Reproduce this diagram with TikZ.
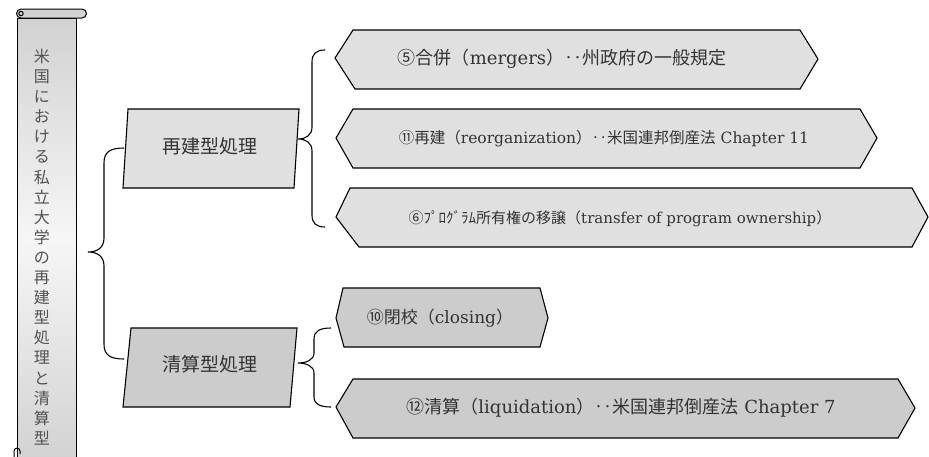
\documentclass[tikz,border=0pt]{standalone}
\usepackage{fontspec}
\setmainfont{DejaVu Serif}
\newfontfamily\jp{Noto Sans CJK JP}
\newcommand\J[1]{{\jp #1}}
\definecolor{lightfill}{HTML}{E0E0E0}
\definecolor{darkfill}{HTML}{CCCCCC}
\definecolor{txtgray}{HTML}{333333}
\definecolor{scrollgray}{HTML}{D2D2D2}
\definecolor{scrolllight}{HTML}{F6F6F6}
\tikzset{
  shp/.style={draw=black, line width=1.1pt, line join=miter},
  lbl/.style={text=txtgray, inner sep=0pt, anchor=center},
  brc/.style={draw=black, line width=1.1pt},
}
\begin{document}
\begin{tikzpicture}[x=1pt,y=-1pt]
\useasboundingbox (0,0) rectangle (929,456);

% ---- scroll ----
\path[shade, top color=scrollgray, bottom color=scrollgray, middle color=scrolllight, draw=black, line width=1pt]
  (17,18) rectangle (76,462);
\filldraw[fill=scrollgray, line width=1pt]
  (21,9) -- (82,9) arc[start angle=-90, end angle=90, radius=4.5] -- (21,18)
  arc[start angle=90, end angle=270, radius=4.5] -- cycle;
\draw[line width=1pt] (21,13.5) circle[radius=2.2];
\draw[line width=1pt] (14,458) -- (14,451) arc[start angle=180, end angle=360, radius=3] -- (20,454);
\node[lbl, text=txtgray!85, align=center, font=\jp\fontsize{16}{20.1}\selectfont] (title) at (42,247)
  {米\\国\\に\\お\\け\\る\\私\\立\\大\\学\\の\\再\\建\\型\\処\\理\\と\\清\\算\\型};

% ---- parallelograms ----
\path[shp, fill=lightfill] (128,109) -- (299,109) -- (294,188) -- (123,188) -- cycle;
\node[lbl, font=\jp\fontsize{19}{22}\selectfont] (p1) at (210,146) {再建型処理};
\path[shp, fill=darkfill] (131,328) -- (297,328) -- (290,407) -- (123,407) -- cycle;
\node[lbl, font=\jp\fontsize{19}{22}\selectfont] (p2) at (210,364) {清算型処理};

% ---- hexagons ----
\path[shp, fill=lightfill] (335,58) -- (353,30) -- (800,30) -- (818,59) -- (800,89) -- (355,89) -- cycle;
\node[lbl, font=\fontsize{18}{22}\selectfont] (h1) at (562,59)
  {\J{⑤合併（}mergers\J{）‥州政府の一般規定}};

\path[shp, fill=lightfill] (336,138) -- (353,109) -- (860,109) -- (877,138) -- (860,168) -- (353,168) -- cycle;
\node[lbl, font=\fontsize{15.5}{20}\selectfont] (h2) at (604,139)
  {\J{⑪再建（}reorganization\J{）‥米国連邦倒産法} Chapter 11};

\path[shp, fill=lightfill] (336,217) -- (350,188) -- (912,188) -- (928,217) -- (912,247) -- (359,247) -- cycle;
\node[lbl, font=\fontsize{15}{20}\selectfont] (h3) at (620,219)
  {\J{⑥ﾌﾟﾛｸﾞﾗﾑ所有権の移譲（}transfer of program ownership\J{）}};

\path[shp, fill=darkfill] (336,318) -- (343,288) -- (540,288) -- (548,318) -- (540,347) -- (344,347) -- cycle;
\node[lbl, font=\fontsize{17}{20}\selectfont] (h4) at (440,318)
  {\J{⑩閉校（}closing\J{）}};

\path[shp, fill=darkfill] (336,407) -- (353,379) -- (898,379) -- (915,408) -- (898,438) -- (353,438) -- cycle;
\node[lbl, font=\fontsize{18}{22}\selectfont] (h5) at (621,408)
  {\J{⑫清算（}liquidation\J{）‥米国連邦倒産法} Chapter 7};

% ---- brace anchors ----
\coordinate (m-top) at (124,148);
\coordinate (m-tip) at (88,252);
\coordinate (m-bot) at (124,359);
\coordinate (a-top) at (325,50);
\coordinate (a-tip) at (298,139);
\coordinate (a-bot) at (325,227);
\coordinate (b-top) at (331,328);
\coordinate (b-tip) at (298,363);
\coordinate (b-bot) at (331,407);

% ---- braces ----
\draw[brc] (m-top) .. controls (110,148) and (104,152) .. (104,163) -- (104,238)
  .. controls (104,248) and (97,252) .. (m-tip)
  .. controls (97,252) and (104,256) .. (104,266) -- (104,344)
  .. controls (104,355) and (110,359) .. (m-bot);
\draw[brc] (a-top) .. controls (316,50) and (312,54) .. (312,62) -- (312,127)
  .. controls (312,135) and (306,139) .. (a-tip)
  .. controls (306,139) and (312,143) .. (312,151) -- (312,215)
  .. controls (312,223) and (316,227) .. (a-bot);
\draw[brc] (b-top) .. controls (320,328) and (314,331) .. (314,339) -- (314,353)
  .. controls (314,360) and (306,363) .. (b-tip)
  .. controls (306,363) and (314,366) .. (314,373) -- (314,397)
  .. controls (314,404) and (320,407) .. (b-bot);
\end{tikzpicture}
\end{document}
